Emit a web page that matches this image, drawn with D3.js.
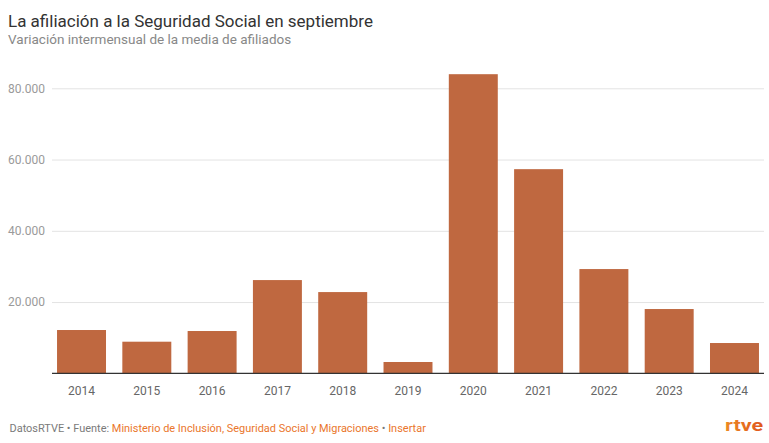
<!DOCTYPE html>
<html><head><meta charset="utf-8">
<script src="https://cdn.jsdelivr.net/npm/d3@7"></script>
<style>body{margin:0;background:#fff}svg{display:block}text{font-family:Roboto,"Noto Sans",sans-serif}</style>
</head><body><svg id="c" width="769" height="443"></svg>
<script>
const years = ["2014","2015","2016","2017","2018","2019","2020","2021","2022","2023","2024"];
const values = [12150, 8870, 11870, 26170, 22800, 3170, 83960, 57300, 29260, 18040, 8500];
const yTicks = [20000, 40000, 60000, 80000];
const title = "La afiliación a la Seguridad Social en septiembre";
const subtitle = "Variación intermensual de la media de afiliados";

const svg = d3.select("#c");
const x0 = 50.5, x1 = 765.5, yBase = 373.3, yTop = 88.3;
const x = d3.scaleBand().domain(years).range([x0, x1]).paddingInner(0.25).paddingOuter(0.1);
const y = d3.scaleLinear().domain([0, 80000]).range([yBase, yTop]);
const fmt = v => d3.format(",")(v).replace(/,/g, ".");

svg.append("text").attr("x", 8).attr("y", 27).attr("font-size", 17).attr("fill", "#333").text(title);
svg.append("text").attr("x", 8).attr("y", 44).attr("font-size", 13.5).attr("fill", "#888").text(subtitle);

const yAxis = d3.axisLeft(y).tickValues(yTicks).tickFormat(fmt).tickSize(-(764 - 52)).tickPadding(7);
const gy = svg.append("g").attr("transform", "translate(52,0)").call(yAxis);
gy.select(".domain").remove();
gy.selectAll(".tick line").attr("stroke", "#e3e3e3").attr("stroke-width", 1);
gy.selectAll(".tick text").attr("font-size", 12).attr("fill", "#9a9a9a").attr("font-family", "Roboto");

svg.append("g").selectAll("rect").data(years).join("rect")
  .attr("x", d => x(d)).attr("width", x.bandwidth())
  .attr("y", (d, i) => y(values[i])).attr("height", (d, i) => yBase - y(values[i]))
  .attr("fill", "#bf6840");

const xAxis = d3.axisBottom(x).tickSize(0).tickPadding(13);
const gx = svg.append("g").attr("transform", `translate(0,${yBase})`).call(xAxis);
gx.select(".domain").remove();
gx.selectAll(".tick text").attr("font-size", 12).attr("fill", "#666").attr("font-family", "Roboto");
svg.append("line").attr("x1", 52).attr("x2", 764).attr("y1", yBase).attr("y2", yBase).attr("stroke", "#333").attr("stroke-width", 1.2);

const fg = svg.append("g");
const ft = fg.append("text").attr("x", 0).attr("y", 0).attr("font-size", 11.5);
ft.append("tspan").attr("fill", "#7a7a7a").text("DatosRTVE • Fuente: ");
ft.append("tspan").attr("fill", "#ea762c").text("Ministerio de Inclusión, Seguridad Social y Migraciones");
ft.append("tspan").attr("fill", "#7a7a7a").text(" • ");
ft.append("tspan").attr("fill", "#ea762c").text("Insertar");
const len = ft.node().getComputedTextLength();
fg.attr("transform", `translate(9.5,431.5) scale(${417 / len},1)`);

const grad = svg.append("defs").append("linearGradient").attr("id", "lg");
grad.append("stop").attr("offset", "0%").attr("stop-color", "#ec8a22");
grad.append("stop").attr("offset", "100%").attr("stop-color", "#e0561c");
svg.append("text").attr("x", 725).attr("y", 431)
  .attr("font-size", 17).attr("font-weight", "bold").attr("fill", "url(#lg)")
  .attr("textLength", 38).attr("lengthAdjust", "spacingAndGlyphs").text("rtve");
</script></body></html>
